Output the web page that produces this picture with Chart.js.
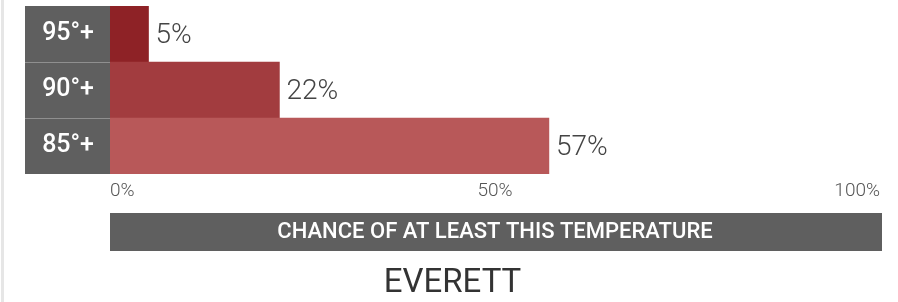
<!DOCTYPE html>
<html>
<head>
<meta charset="utf-8">
<script src="https://cdn.jsdelivr.net/npm/chart.js@4"></script>
<style>
  html, body { margin: 0; padding: 0; background: #fff; }
  #wrap { position: relative; width: 898px; height: 302px; }
  #edge { position: absolute; left: 1px; top: 0; width: 3px; height: 302px; background: #e6e6e6; }
</style>
</head>
<body>
<div id="wrap">
  <canvas id="heatChart" width="898" height="302"></canvas>
  <div id="edge"></div>
</div>
<script>
const thresholds = ['95°+', '90°+', '85°+'];
const chances = [5, 22, 57];
const barColors = ['#8e2226', '#a23c3f', '#b85859'];
const xTicks = [0, 50, 100];
const axisTitle = 'CHANCE OF AT LEAST THIS TEMPERATURE';
const place = 'EVERETT';

// grey strip behind the x axis title + separators in the label column
const decorations = {
  id: 'decorations',
  beforeDraw(chart) {
    const ctx = chart.ctx;
    const x = chart.scales.x;
    ctx.save();
    ctx.fillStyle = '#5f5f5f';
    ctx.fillRect(x.left, x.bottom - 38, x.right - x.left + 2, 38);
    ctx.restore();
  },
  afterDatasetsDraw(chart) {
    const ctx = chart.ctx;
    const y = chart.scales.y;
    ctx.save();
    ctx.strokeStyle = 'rgba(255,255,255,0.3)';
    ctx.lineWidth = 1;
    for (let i = 1; i < thresholds.length; i++) {
      const py = Math.round((y.getPixelForValue(i - 1) + y.getPixelForValue(i)) / 2) + 0.5;
      ctx.beginPath();
      ctx.moveTo(y.left, py);
      ctx.lineTo(y.right, py);
      ctx.stroke();
    }
    // value labels at the end of each bar
    const meta = chart.getDatasetMeta(0);
    ctx.fillStyle = '#444';
    ctx.font = '300 28px Roboto';
    ctx.textBaseline = 'middle';
    ctx.textAlign = 'left';
    meta.data.forEach((bar, i) => {
      ctx.fillText(chances[i] + '%', bar.x + 7, bar.y + 2);
    });
    ctx.restore();
  }
};

const heatConfig = {
  type: 'bar',
  data: {
    labels: thresholds,
    datasets: [
      {
        data: chances,
        backgroundColor: barColors,
        borderWidth: 0,
        barPercentage: 1,
        categoryPercentage: 1
      }
    ]
  },
  options: {
    indexAxis: 'y',
    responsive: false,
    animation: false,
    layout: { padding: { top: 6, left: 25, right: 18, bottom: 0 } },
    plugins: {
      legend: { display: false },
      tooltip: { enabled: false },
      title: {
        display: true,
        position: 'bottom',
        text: place,
        color: '#333',
        font: { family: 'Roboto', size: 33, weight: '400', lineHeight: '32px' },
        padding: { top: 17, bottom: 2 }
      }
    },
    scales: {
      x: {
        min: 0,
        max: 100,
        afterBuildTicks: (scale) => {
          scale.ticks = xTicks.map(v => ({ value: v }));
        },
        grid: { display: false, drawTicks: false },
        border: { display: false },
        ticks: {
          align: 'inner',
          padding: 7,
          color: '#555',
          font: { family: 'Roboto', size: 19, weight: '300', lineHeight: '20px' },
          callback: (v) => v + '%'
        },
        title: {
          display: true,
          text: axisTitle,
          color: '#fff',
          font: { family: 'Roboto', size: 22, weight: '500', lineHeight: '38px' },
          padding: { top: 5, bottom: 0 }
        }
      },
      y: {
        backgroundColor: '#5f5f5f',
        afterFit: (scale) => {
          scale.width = 85;
          scale.paddingTop = 0;
          scale.paddingBottom = 0;
        },
        grid: { display: false, drawTicks: false },
        border: { display: false },
        ticks: {
          crossAlign: 'near',
          padding: 16,
          color: '#fff',
          font: { family: 'Roboto', size: 25, weight: '500' }
        }
      }
    }
  },
  plugins: [decorations]
};

const heatChart = new Chart(document.getElementById('heatChart'), heatConfig);
</script>
</body>
</html>
